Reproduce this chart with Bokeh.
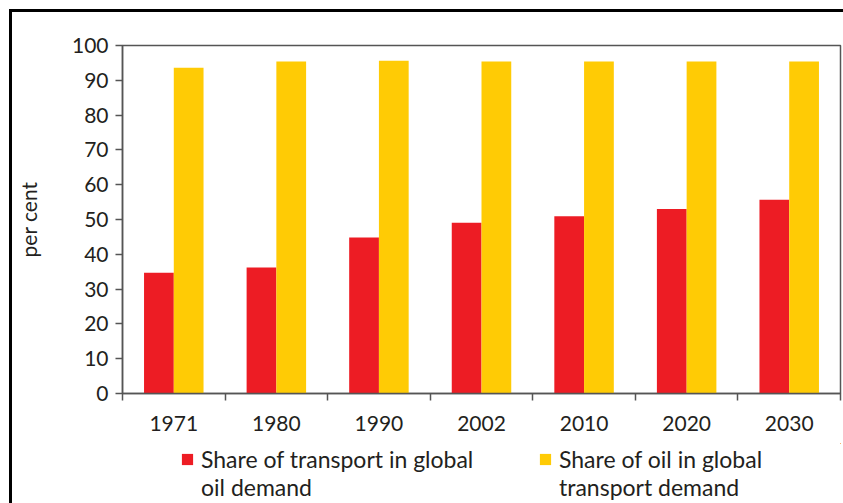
from bokeh.plotting import figure
from bokeh.models import (ColumnDataSource, FixedTicker, Legend, LegendItem, Range1d)
from bokeh.layouts import column
from bokeh.transform import dodge
from bokeh.embed import file_html
from bokeh.resources import INLINE

# ---- data ----
years = ["1971", "1980", "1990", "2002", "2010", "2020", "2030"]
transport_share_of_oil = [34.7, 36.2, 44.8, 49.1, 50.9, 53.0, 55.7]
oil_share_of_transport = [93.6, 95.4, 95.6, 95.4, 95.4, 95.4, 95.4]
y_ticks = [0, 10, 20, 30, 40, 50, 60, 70, 80, 90, 100]
series_label_lines = [["Share of transport in global", "oil demand"],
                      ["Share of oil in global", "transport demand"]]

FONT = "Lato"
TXT = "#231F20"
AX = "#555555"
RED = "#ED1C24"
YEL = "#FFCB05"

n = len(years)
centers = [i + 0.5 for i in range(n)]
src = ColumnDataSource(dict(year=years, c=centers,
                            t=transport_share_of_oil, o=oil_share_of_transport))

p = figure(width=831, height=431, output_backend="svg", toolbar_location=None,
           x_range=Range1d(0, n), y_range=Range1d(0, 100),
           min_border_left=110, min_border_right=3, min_border_top=33,
           min_border_bottom=50)
p.background_fill_color = "white"
p.border_fill_color = "white"
p.grid.visible = False
p.outline_line_color = AX
p.outline_line_width = 1.5

p.vbar(x=dodge("c", -0.145, range=p.x_range), top="t", width=0.29,
       source=src, fill_color=RED, line_color=None)
p.vbar(x=dodge("c", 0.145, range=p.x_range), top="o", width=0.29,
       source=src, fill_color=YEL, line_color=None)

# x axis: labels at centres, ticks at category boundaries
xa = p.xaxis[0]
xa.ticker = FixedTicker(ticks=centers, minor_ticks=list(range(n + 1)))
xa.major_label_overrides = {c: y for c, y in zip(centers, years)}
xa.major_tick_line_color = None
xa.major_tick_in = 0
xa.major_tick_out = 0
xa.minor_tick_in = 0
xa.minor_tick_out = 7
xa.minor_tick_line_color = AX
xa.minor_tick_line_width = 1.5
xa.axis_line_color = AX
xa.axis_line_width = 1.5
xa.major_label_standoff = 15
xa.major_label_text_font = FONT
xa.major_label_text_font_size = "21px"
xa.major_label_text_color = TXT

ya = p.yaxis[0]
ya.ticker = FixedTicker(ticks=y_ticks, minor_ticks=[])
ya.major_tick_in = 0
ya.major_tick_out = 7
ya.major_tick_line_color = AX
ya.major_tick_line_width = 1.5
ya.axis_line_color = AX
ya.axis_line_width = 1.5
ya.major_label_standoff = 7
ya.major_label_text_font = FONT
ya.major_label_text_font_size = "21px"
ya.major_label_text_color = TXT
ya.axis_label = "per cent"
ya.axis_label_text_font = FONT
ya.axis_label_text_font_style = "normal"
ya.axis_label_text_font_size = "21px"
ya.axis_label_text_color = TXT
ya.axis_label_standoff = 28

# ---- legend strip below the chart (its frame is aligned with the chart's) ----
leg = figure(width=831, height=60, output_backend="svg", toolbar_location=None,
             x_range=Range1d(-20, -10), y_range=Range1d(-2, -1),
             x_axis_type=None, y_axis_type=None,
             min_border_left=0, min_border_right=0, min_border_top=0,
             min_border_bottom=0)
leg.grid.visible = False
leg.outline_line_color = None
leg.background_fill_color = "white"
leg.border_fill_color = "white"

# legend swatch renderers (same data; outside this strip's visible range)
r_red = leg.vbar(x="c", top="t", width=0.29, source=src,
                 fill_color=RED, line_color=None)
r_yel = leg.vbar(x="c", top="o", width=0.29, source=src,
                 fill_color=YEL, line_color=None)
r_none = leg.vbar(x="c", top="t", width=0.29, source=src,
                  fill_alpha=0, line_alpha=0)


def make_legend(lines, renderer, x):
    lg = Legend(items=[LegendItem(label=lines[0], renderers=[renderer]),
                       LegendItem(label=lines[1], renderers=[r_none])],
                location=(x, 2), orientation="vertical")
    lg.border_line_color = None
    lg.background_fill_alpha = 0
    lg.padding = 0
    lg.margin = 0
    lg.spacing = 0
    lg.glyph_width = 14
    lg.glyph_height = 14
    lg.label_standoff = 7
    lg.label_height = 25
    lg.label_text_font = FONT
    lg.label_text_font_size = "23px"
    lg.label_text_color = TXT
    return lg


leg.add_layout(make_legend(series_label_lines[0], r_red, 58), "center")
leg.add_layout(make_legend(series_label_lines[1], r_yel, 416), "center")

page = column(p, leg, spacing=0,
              styles={"margin-left": "9px", "margin-top": "9px",
                      "border-left": "3px solid black",
                      "border-top": "3px solid black"})

open("out.html", "w").write(file_html(page, INLINE))
